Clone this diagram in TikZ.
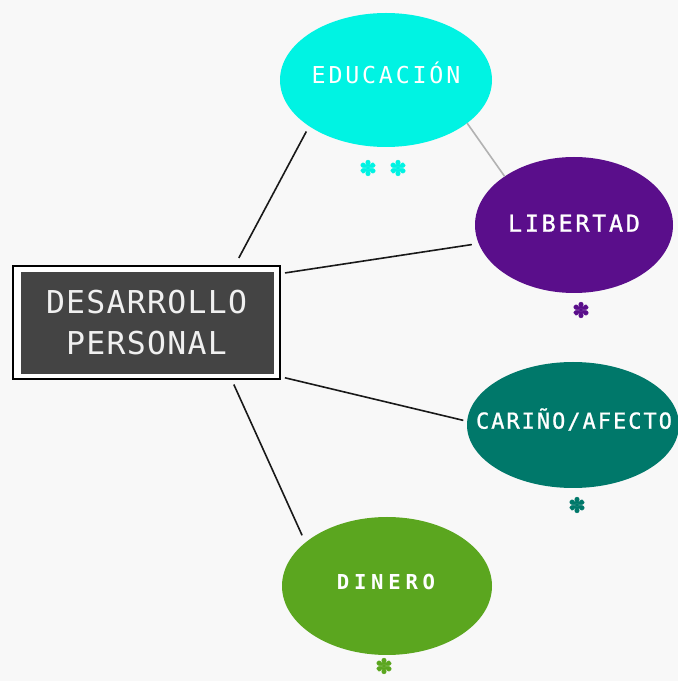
\documentclass[tikz,border=0pt]{standalone}
\usepackage{fontspec}
\usepackage{tikz}
\usetikzlibrary{shapes.geometric}
\newfontfamily\mapfont{DejaVu Sans Mono}
\newfontfamily\starfont{DejaVu Sans}
\definecolor{bgpaper}{HTML}{F8F8F8}
\definecolor{coregray}{HTML}{444444}
\definecolor{educyan}{HTML}{00F3E3}
\definecolor{libpurple}{HTML}{5A0E8B}
\definecolor{carteal}{HTML}{00786A}
\definecolor{dingreen}{HTML}{5BA61F}

\begin{document}
\begin{tikzpicture}[x=1pt,y=1pt,
  bubble/.style={ellipse,draw=none,inner sep=0pt,outer sep=0pt},
  tag/.style={text=white,inner sep=0pt,text height=0.73em,text depth=0pt},
  link/.style={line width=1.6pt,black!90},
  star/.style={inner sep=0pt,font={\starfont\addfontfeature{FakeBold=2}\fontsize{21}{21}\selectfont}}]
\fill[bgpaper] (0,0) rectangle (678,681); % paper
\useasboundingbox (0,0) rectangle (678,681);
\node[rectangle,draw=black,line width=2pt,fill=white,minimum width=267pt,minimum height=113pt,
  path picture={\draw[coregray,fill=coregray,line width=0.8pt] ([shift={(8pt,-6pt)}]path picture bounding box.north west) rectangle ([shift={(-7pt,6pt)}]path picture bounding box.south east);},
  align=center,text=white!94!black,
  font={\mapfont\addfontfeature{LetterSpace=4}\fontsize{31.5}{41}\selectfont}] (core) at (146.5,358.5) {DESARROLLO\\PERSONAL}; % core
\node[bubble,fill=educyan,minimum width=212pt,minimum height=134pt] (edu) at (386,601) {}; % edu
\node[tag,font={\mapfont\addfontfeature{LetterSpace=12}\fontsize{23.3}{28}\selectfont}] (edutag) at (edu.center) {EDUCACIÓN}; % edu
\node[bubble,fill=libpurple,minimum width=198pt,minimum height=136pt] (lib) at (574,456) {}; % lib
\node[tag,font={\mapfont\addfontfeature{LetterSpace=12,FakeBold=1.2}\fontsize{23.3}{28}\selectfont}] (libtag) at ([yshift=-3pt]lib.center) {LIBERTAD}; % lib
\node[bubble,fill=carteal,minimum width=212pt,minimum height=126pt] (car) at (573,256) {}; % car
\node[tag,font={\mapfont\addfontfeature{LetterSpace=9,FakeBold=1}\fontsize{22}{26}\selectfont}] (cartag) at ([xshift=1pt]car.center) {CARIÑO/AFECTO}; % car
\node[bubble,fill=dingreen,minimum width=210pt,minimum height=138pt] (din) at (387,95) {}; % din
\node[tag,font={\mapfont\bfseries\addfontfeature{LetterSpace=23}\fontsize{20.6}{24}\selectfont}] (dintag) at ([xshift=-1pt]din.center) {DINERO}; % din
\node[star,text=educyan] (edustar1) at (368,513) {✽}; % edu
\node[star,text=educyan] (edustar2) at (398,513) {✽}; % edu
\node[star,text=libpurple] (libstar) at (581,371) {✽}; % lib
\node[star,text=carteal] (carstar) at (577,176) {✽}; % car
\node[star,text=dingreen] (dinstar) at (384,15) {✽}; % din
\draw[link,shorten <=8pt,shorten >=6pt] (core.33) -- (edu.211); % core-edu
\draw[link,shorten <=4pt,shorten >=7pt] (core.20) -- (lib.191); % core-lib
\draw[link,shorten <=4pt,shorten >=4pt] (core.338) -- (car.178); % core-car
\draw[link,shorten <=5pt,shorten >=8pt] (core.326) -- (din.152); % core-din
\draw[line width=1.6pt,black!30] (edu.332) -- (lib.145); % edu-lib
\end{tikzpicture}
\end{document}
